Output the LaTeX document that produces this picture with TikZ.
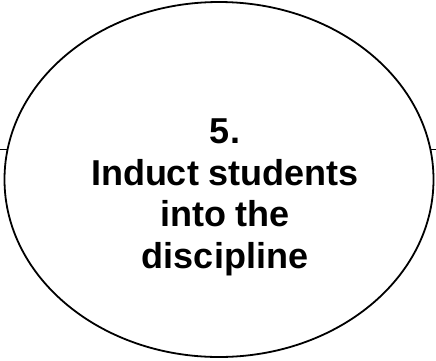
\documentclass[tikz,border=0pt]{standalone}
\usepackage{fontspec}
\setmainfont{Liberation Sans}
\usetikzlibrary{shapes.geometric}

\begin{document}
\begin{tikzpicture}[x=1pt,y=-1pt]
\tikzstyle{every node}+=[inner sep=0pt]
\tikzstyle{bubble}=[draw=black, fill=white, ellipse, line width=1.8pt,
  minimum width=429pt, minimum height=355pt]
\tikzstyle{label}=[align=center, font=\fontsize{36}{41.5}\selectfont\bfseries]
\useasboundingbox (0,0) rectangle (436,360);
\coordinate (west) at (0,149);
\coordinate (east) at (436,149);
\draw [black, line width=1pt] (west) -- (east);
\node [bubble] (goal) at (219,179.5) {};
\node [label, anchor=base] (text) at (225,268) {5.\\Induct students\\into the\\discipline};
\end{tikzpicture}
\end{document}
